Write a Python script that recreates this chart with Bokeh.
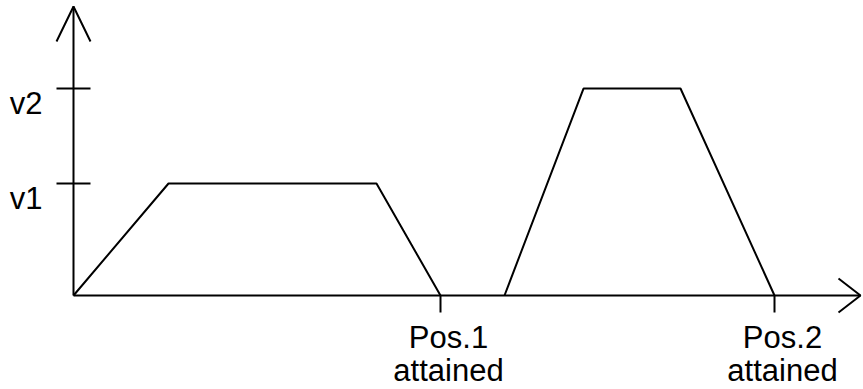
from bokeh.plotting import figure
from bokeh.models import Range1d
from bokeh.core.properties import value
from bokeh.embed import file_html
from bokeh.resources import INLINE

# ---- data (time units, velocity units) ----
v_labels = ["v1", "v2"]
v_levels = [1.0, 1.848]
t_move1 = [0.0, 9.5, 30.3, 36.7]
v_move1 = [0.0, 1.0, 1.0, 0.0]
t_move2 = [43.1, 51.0, 60.7, 70.1]
v_move2 = [0.0, 1.848, 1.848, 0.0]
pos_times = [36.7, 70.1]
pos_labels = ["Pos.1\nattained", "Pos.2\nattained"]

# ---- layout ----
W, H = 863, 389
PX_T = 10.0     # pixels per time unit
PX_V = 112.0    # pixels per velocity unit
x0 = -73.0 / PX_T
x1 = x0 + W / PX_T
y1 = 295.0 / PX_V
y0 = y1 - H / PX_V

p = figure(width=W, height=H, output_backend="svg", toolbar_location=None,
           x_range=Range1d(x0, x1), y_range=Range1d(y0, y1),
           min_border=0, min_border_left=0, min_border_right=0,
           min_border_top=0, min_border_bottom=0)
p.axis.visible = False
p.grid.visible = False
p.outline_line_color = None
p.background_fill_color = "white"
p.border_fill_color = "white"

LW = 2
col = "black"
FONT = value("Liberation Sans")

# axes with open arrow heads
t_end = 787.0 / PX_T
v_end = 289.0 / PX_V
p.line([0, 0], [0, v_end], line_width=LW, line_color=col)
p.line([0, t_end], [0, 0], line_width=LW, line_color=col)
# y arrow head: half width 17px, length 35px
p.line([-17 / PX_T, 0, 17 / PX_T], [v_end - 35 / PX_V, v_end, v_end - 35 / PX_V],
       line_width=LW, line_color=col)
# x arrow head: length 22px, half width 17px
p.line([t_end - 22 / PX_T, t_end, t_end - 22 / PX_T], [17 / PX_V, 0, -17 / PX_V],
       line_width=LW, line_color=col)

# velocity ticks and labels
for v in v_levels:
    p.line([-17 / PX_T, 17 / PX_T], [v, v], line_width=LW, line_color=col)
p.text(x=[0] * len(v_levels), y=v_levels, text=v_labels,
       x_offset=-31, y_offset=-3, text_align="right", text_baseline="top",
       text_font=FONT, text_font_size="31px", text_color=col)

# position ticks and labels
for t in pos_times:
    p.line([t, t], [0, -17 / PX_V], line_width=LW, line_color=col)
p.text(x=pos_times, y=[0] * len(pos_times), text=pos_labels,
       x_offset=8, y_offset=24, text_align="center", text_baseline="top",
       text_font=FONT, text_font_size="31px", text_color=col,
       text_line_height=0.97)

# velocity profiles
p.line(t_move1, v_move1, line_width=LW, line_color=col)
p.line(t_move2, v_move2, line_width=LW, line_color=col)

open("out.html", "w").write(file_html(p, INLINE))
